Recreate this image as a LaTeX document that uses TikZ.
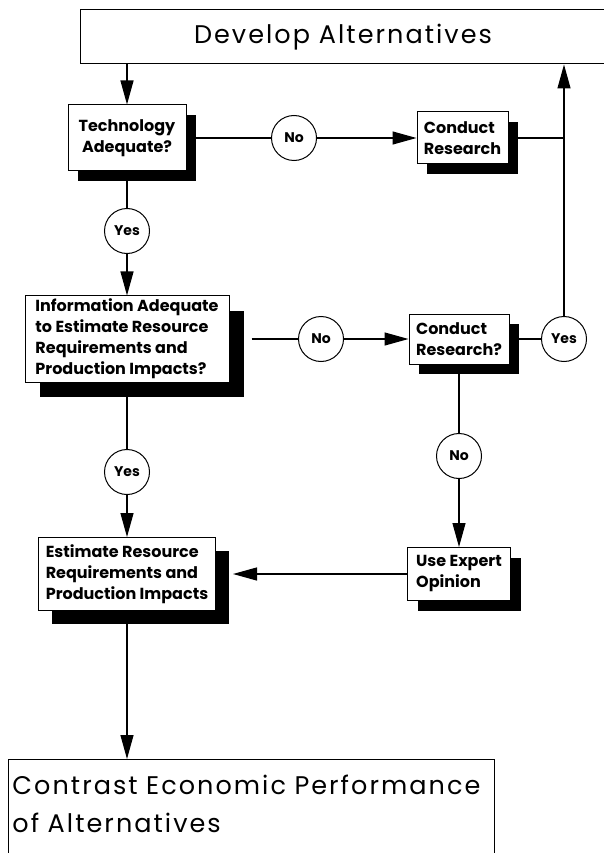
\documentclass[tikz,border=0pt]{standalone}
\usepackage{fontspec}
\setmainfont{Poppins}
\usetikzlibrary{arrows.meta,positioning,shadows}

\tikzset{
  qbox/.style={draw, fill=white, line width=1pt, inner sep=3pt, align=left,
    font=\bfseries\fontsize{16}{21}\selectfont,
    drop shadow={shadow xshift=#1, shadow yshift=-#1, fill=black, opacity=1}},
  qbox/.default=10pt,
  ans/.style={draw, circle, fill=white, line width=1pt, inner sep=0pt,
    minimum size=45pt, font=\bfseries\fontsize{14}{16}\selectfont},
  wide/.style={draw, fill=white, line width=1pt,
    font=\addfontfeature{LetterSpace=8}\fontsize{25.5}{38}\selectfont},
}

\begin{document}
\begin{tikzpicture}[x=1pt,y=-1pt,line width=1.2pt,
    >={Triangle[length=24pt,width=13pt]}, on grid]
   \useasboundingbox (0,0) rectangle (603,853);

   \node[wide, minimum width=525pt, minimum height=54pt] (dev) at (343,37) {Develop Alternatives};

   \node[qbox, align=center, minimum width=118pt, minimum height=66pt] (tech) at (127,138) {Technology\\Adequate?};
   \node[ans]  (n1)  [right=167pt of tech] {No};
   \node[qbox, minimum width=91pt, minimum height=52pt] (cr1) [right=168.5pt of n1] {Conduct\\Research};
   \node[ans]  (y1)  [below=93pt of tech] {Yes};

   \node[qbox=15pt, minimum width=204pt, minimum height=86pt] (info) [below=108pt of y1]
        {Information Adequate\\to Estimate Resource\\Requirements and\\Production Impacts?};
   \node[ans]  (n2)  [right=194pt of info] {No};
   \node[qbox, minimum width=100pt, minimum height=50pt] (cr2) [right=138pt of n2] {Conduct\\Research?};
   \node[ans]  (y3)  [right=105pt of cr2] {Yes};
   \node[ans]  (n3)  [below=117pt of cr2] {No};
   \node[ans]  (y2)  [below=133pt of info] {Yes};

   \node[qbox=13pt, minimum width=177pt, minimum height=73pt] (est) [below=102pt of y2]
        {Estimate Resource\\Requirements and\\Production Impacts};
   \node[qbox, minimum width=103pt, minimum height=53pt] (ueo) [below=118pt of n3] {Use Expert\\Opinion};

   % box runs on past the page foot
   \node[wide, anchor=north west, text width=478pt, align=left, inner xsep=4pt, inner ysep=16pt] (ceo) at (8,759)
        {Contrast Economic Performance\\of Alternatives\\~};

   % top row
   \draw[->] (dev.south -| tech) -- (tech);
   \draw (tech) -- (n1);
   \draw[->] (n1) -- (cr1);
   \draw (cr1.east) -- (cr1.east -| y3);
   \draw[->] (y3) -- (y3 |- dev.south);
   % middle row
   \draw (tech) -- (y1);
   \draw[->] (y1) -- (info);
   \draw ([xshift=22pt]info.east) -- (n2);
   \draw[->] (n2) -- (cr2);
   \draw (cr2) -- (y3);
   \draw (cr2) -- (n3);
   \draw[->] (n3) -- (ueo);
   % bottom row
   \draw (info) -- (y2);
   \draw[->] (y2) -- (est);
   \draw[->] (ueo) -- ([xshift=17pt]est.east);
   \draw[->] (est) -- (est |- ceo.north);
\end{tikzpicture}
\end{document}
